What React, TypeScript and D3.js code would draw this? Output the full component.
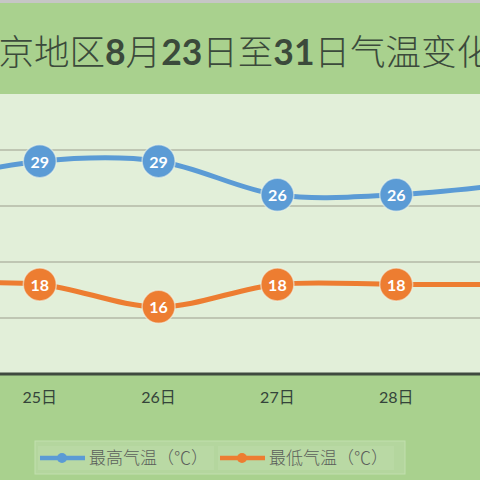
import * as d3 from "d3";

const days = ["24日", "25日", "26日", "27日", "28日", "29日"];
const highTemps = [27, 29, 29, 26, 26, 27];
const lowTemps = [18, 18, 16, 18, 18, 18];
const gridTicks = [15, 20, 25, 30];
const titleParts = [
  { t: "北京地区", bold: false },
  { t: "8", bold: true },
  { t: "月", bold: false },
  { t: "23", bold: true },
  { t: "日至", bold: false },
  { t: "31", bold: true },
  { t: "日气温变化", bold: false },
];
const seriesNames = ["最高气温（℃）", "最低气温（℃）"];

const W = 480;
const H = 480;
const BLUE = "#5b9bd5";
const ORANGE = "#ed7d31";
const FONT = "Lato, 'Noto Sans CJK SC', sans-serif";

export default function App() {
  const x = d3.scalePoint<string>().domain(days).range([-79, 515]);
  const y = d3.scaleLinear().domain([10, 35]).range([374, 94]);
  const line = d3
    .line<number>()
    .x((_, i) => x(days[i])!)
    .y((d) => y(d))
    .curve(d3.curveCardinal.tension(0));

  const series = [
    { values: highTemps, color: BLUE },
    { values: lowTemps, color: ORANGE },
  ];
  // only the days that fall inside the visible window get a tick label
  const shownDays = days.filter((d) => x(d)! > 16 && x(d)! < W - 16);

  return (
    <svg width={W} height={H} style={{ position: "absolute", left: 0, top: 0 }} fontFamily={FONT}>
      <rect width={W} height={H} fill="#a9d18e" />
      <rect width={W} height={3} fill="#c6c6c6" />
      <rect x={0} y={y(35)} width={W} height={y(10) - y(35)} fill="#e2efd9" />
      {gridTicks.map((t) => (
        <line key={t} x1={0} x2={W} y1={y(t)} y2={y(t)} stroke="#b3b8a6" strokeWidth={1.5} />
      ))}
      <line x1={0} x2={W} y1={y(10)} y2={y(10)} stroke="#3f4a3f" strokeWidth={3} />

      <text x={-37} y={65} fontSize={35.5} fill="#3b4a3b" fontFamily="'Noto Sans CJK SC', sans-serif">
        {titleParts.map((p, i) => (
          <tspan key={i} fontWeight={p.bold ? 700 : 300} fontFamily={p.bold ? "Lato, sans-serif" : undefined}>
            {p.t}
          </tspan>
        ))}
      </text>

      {shownDays.map((d) => (
        <text key={d} x={x(d)} y={403} textAnchor="middle" fontSize={16} fill="#34443a">
          {d}
        </text>
      ))}

      {series.map((s, si) => (
        <g key={si}>
          <path d={line(s.values)!} fill="none" stroke={s.color} strokeWidth={5} />
          {s.values.map((v, i) => (
            <g key={i}>
              <circle cx={x(days[i])} cy={y(v)} r={16.5} fill={s.color} stroke="#eef5e8" strokeOpacity={0.6} strokeWidth={1.5} />
              <text
                x={x(days[i])}
                y={y(v)}
                textAnchor="middle"
                dominantBaseline="central"
                fontSize={16}
                fontWeight={700}
                fill="#ffffff"
              >
                {v}
              </text>
            </g>
          ))}
        </g>
      ))}

      <g>
        <rect x={35} y={441} width={370} height={33} fill="#b4d69e" stroke="#c2dfae" strokeWidth={1} />
        {seriesNames.map((name, i) => {
          const ox = 40 + i * 180;
          const c = i === 0 ? BLUE : ORANGE;
          return (
            <g key={name}>
              <rect x={ox - 2} y={446} width={176} height={24} fill="#bcdaa8" opacity={0.6} />
              <line x1={ox} x2={ox + 45} y1={458} y2={458} stroke={c} strokeWidth={4.5} />
              <circle cx={ox + 22} cy={458} r={5} fill={c} />
              <text x={ox + 49} y={464} fontSize={17} fill="#5b605b" fontFamily="'Noto Sans CJK SC', sans-serif" fontWeight={300}>
                {name}
              </text>
            </g>
          );
        })}
      </g>
    </svg>
  );
}
